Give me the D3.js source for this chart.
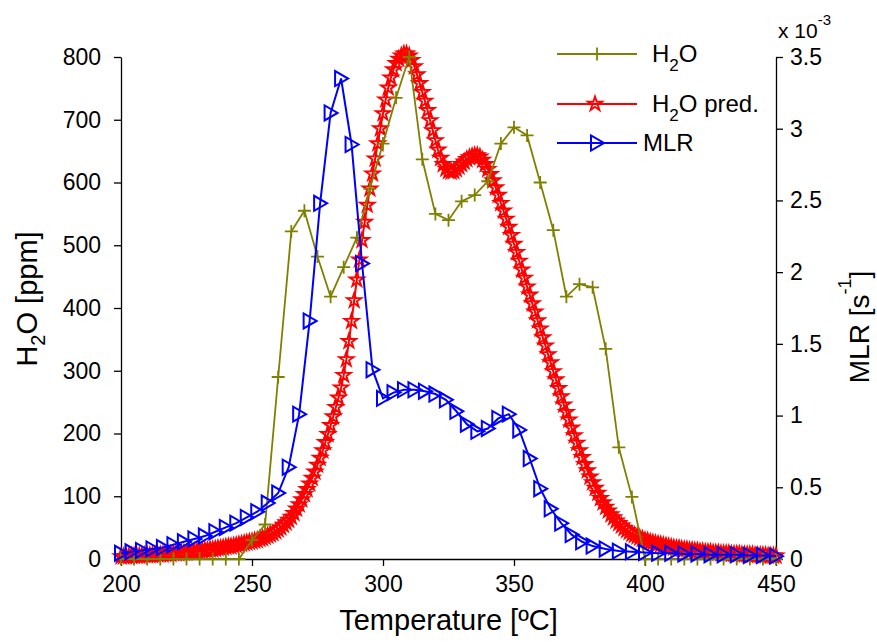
<!DOCTYPE html>
<html><head><meta charset="utf-8">
<script src="https://cdn.jsdelivr.net/npm/d3@7"></script>
<style>
body{margin:0;background:#fff}
svg{display:block}
text{font-family:"Liberation Sans",Arial,Helvetica,sans-serif;fill:#000}
</style>
</head><body>
<svg id="c" width="877" height="642"></svg>
<script>
// ---------------- data ----------------
const h2oTemp = [200,205,210,215,220,225,230,235,240,245,250,255,260,265,270,275,280,285,290,295,
  300,305,310,315,320,325,330,335,340,345,350,355,360,365,370,375,380,385,390,395,
  400,405,410,415,420,425,430,435,440,445,450];
const h2oValues = [0,0,0,0,0,0,0,0,0,0,30,55,290,522,555,482,418,465,512,590,
  662,735,800,637,550,540,570,580,602,662,688,675,600,524,418,438,433,335,178,99,
  0,0,0,0,0,0,0,0,0,0,0];

// predicted H2O sampled every 1 degC from 200 to 450
const predTemp = d3.range(200, 451, 1);
const predValues = [
  4,4,4,4,5,5,5,5,5,6,
  6,6,6,7,7,7,7,8,8,8,
  9,9,9,10,10,10,11,11,12,12,
  13,13,14,14,15,15,16,17,17,18,
  19,20,20,21,22,23,24,25,26,27,
  28,29,30,32,33,35,37,39,41,44,
  47,50,54,58,62,67,73,80,87,95,
  103,111,120,129,139,150,161,173,186,199,
  213,227,242,257,273,293,318,347,379,412,
  445,477,508,537,564,590,614,638,662,686,
  710,732,751,767,780,790,797,802,805,805,
  802,795,785,772,758,744,730,715,699,683,
  667,652,639,629,622,618,617,618,621,625,
  629,633,637,640,642,643,643,641,636,629,
  621,613,603,592,580,567,555,542,529,516,
  502,489,475,461,448,434,421,407,394,380,
  367,353,340,326,313,299,286,272,259,246,
  234,222,209,197,185,173,162,151,141,131,
  122,113,105,97,90,83,77,71,66,61,
  57,53,49,46,43,40,38,36,34,32,
  30,29,27,26,25,24,23,22,21,20,
  19,18,17,17,16,15,15,14,14,13,
  13,12,12,11,11,11,10,10,10,9,
  9,9,9,8,8,8,8,7,7,7,
  7,7,6,6,6,6,6,5,5,5,
  5];

const mlrTemp = [200,204,208,212,216,220,224,228,232,236,240,244,248,252,256,260,264,268,272,276,
  280,284,288,292,296,300,304,308,312,316,320,324,328,332,336,340,344,348,352,356,
  360,364,368,372,376,380,385,390,395,400,405,410,415,420,425,430,435,440,445,450];
// MLR in units of 10^-3 s^-1
const mlrValues = [0.04,0.05,0.06,0.07,0.08,0.10,0.12,0.14,0.16,0.19,0.22,0.25,0.29,0.33,0.39,0.46,0.64,1.01,1.66,2.48,
  3.11,3.35,2.89,2.06,1.32,1.12,1.16,1.18,1.18,1.17,1.15,1.11,1.03,0.94,0.89,0.91,0.98,1.01,0.90,0.70,
  0.49,0.35,0.25,0.17,0.12,0.09,0.07,0.055,0.05,0.045,0.04,0.04,0.035,0.035,0.03,0.03,0.03,0.025,0.025,0.02];

const xTicks = [200,250,300,350,400,450];
const yLeftTicks = [0,100,200,300,400,500,600,700,800];
const yRightTicks = [0,0.5,1,1.5,2,2.5,3,3.5];
const yRightLabels = ["0","0.5","1","1.5","2","2.5","3","3.5"];
const seriesNames = ["H2O","H2O pred.","MLR"];

// ---------------- layout ----------------
const M = {l:121, r:776, t:57, b:559};
const OLIVE = "#808000", RED = "#ff0000", BLUE = "#0000ff";
const TICK_FONT = 23, LABEL_FONT = 29, LEG_FONT = 24;

const svg = d3.select("#c");
const x = d3.scaleLinear().domain([200,450]).range([M.l, M.r]);
const yL = d3.scaleLinear().domain([0,800]).range([M.b, M.t]);
const yR = d3.scaleLinear().domain([0,3.5]).range([M.b, M.t]);

function styleAxis(g){
  g.selectAll("path.domain").attr("stroke","#000").attr("stroke-width",1.3);
  g.selectAll(".tick line").attr("stroke","#000").attr("stroke-width",1.3);
  g.selectAll(".tick text").style("font-size",TICK_FONT+"px").attr("fill","#000")
   .style("font-family",'"Liberation Sans",Arial,sans-serif');
}

svg.append("g").attr("transform",`translate(0,${M.b})`)
  .call(d3.axisBottom(x).tickValues(xTicks).tickFormat(d3.format("d")).tickSize(7).tickSizeOuter(0).tickPadding(10))
  .call(styleAxis);
svg.append("g").attr("transform",`translate(${M.l},0)`)
  .call(d3.axisLeft(yL).tickValues(yLeftTicks).tickFormat(d3.format("d")).tickSize(7).tickSizeOuter(0).tickPadding(13))
  .call(styleAxis);
svg.append("g").attr("transform",`translate(${M.r},0)`)
  .call(d3.axisRight(yR).tickValues(yRightTicks).tickFormat((d,i)=>yRightLabels[i]).tickSize(7).tickSizeOuter(0).tickPadding(7))
  .call(styleAxis);

// exponent label
const ex = svg.append("text").attr("x",778).attr("y",38).style("font-size","21px");
ex.append("tspan").text("x 10");
ex.append("tspan").attr("dy",-13).style("font-size","15px").text("-3");

// axis labels
svg.append("text").attr("x",(M.l+M.r)/2).attr("y",630).attr("text-anchor","middle")
  .style("font-size",LABEL_FONT+"px").text("Temperature [ºC]");

const yl = svg.append("text").attr("transform","translate(37,299) rotate(-90)")
  .attr("text-anchor","middle").style("font-size",LABEL_FONT+"px");
yl.append("tspan").text("H");
yl.append("tspan").attr("dy",8).style("font-size","20px").text("2");
yl.append("tspan").attr("dy",-8).text("O [ppm]");

const yr = svg.append("text").attr("transform","translate(869,327) rotate(-90)")
  .attr("text-anchor","middle").style("font-size","28px");
yr.append("tspan").text("MLR [s");
yr.append("tspan").attr("dy",-18).style("font-size","18px").text("-1");
yr.append("tspan").attr("dy",18).text("]");

// ---------------- marker shapes ----------------
const plusPath = "M-6.5,0H6.5M0,-6.5V6.5";
const starPath = d3.symbol(d3.symbolStar, 62)();
const triPath = "M-6,-7.5L-6,7.5L7,0Z";

// ---------------- series ----------------
const pred = predTemp.map((t,i)=>[t, predValues[i]]);
const h2o = h2oTemp.map((t,i)=>[t, h2oValues[i]]);
const mlr = mlrTemp.map((t,i)=>[t, mlrValues[i]]);

// predicted (red stars)
svg.append("path").datum(pred)
  .attr("d", d3.line().x(d=>x(d[0])).y(d=>yL(d[1])))
  .attr("fill","none").attr("stroke",RED).attr("stroke-width",2);
svg.append("g").selectAll("path").data(pred).join("path")
  .attr("d",starPath).attr("transform",d=>`translate(${x(d[0])},${yL(d[1])})`)
  .attr("fill","none").attr("stroke",RED).attr("stroke-width",1.9);

// measured H2O (olive plus)
svg.append("path").datum(h2o)
  .attr("d", d3.line().x(d=>x(d[0])).y(d=>yL(d[1])))
  .attr("fill","none").attr("stroke",OLIVE).attr("stroke-width",1.8);
svg.append("g").selectAll("path").data(h2o).join("path")
  .attr("d",plusPath).attr("transform",d=>`translate(${x(d[0])},${yL(d[1])})`)
  .attr("fill","none").attr("stroke",OLIVE).attr("stroke-width",1.8);

// MLR (blue triangles, right axis)
svg.append("path").datum(mlr)
  .attr("d", d3.line().x(d=>x(d[0])).y(d=>yR(d[1])))
  .attr("fill","none").attr("stroke",BLUE).attr("stroke-width",2);
svg.append("g").selectAll("path").data(mlr).join("path")
  .attr("d",triPath).attr("transform",d=>`translate(${x(d[0])},${yR(d[1])})`)
  .attr("fill","none").attr("stroke",BLUE).attr("stroke-width",2);

// ---------------- legend ----------------
const legend = [
  {y:54, tx:652, color:OLIVE, shape:plusPath, mx:597, sw:1.8},
  {y:104, tx:652, color:RED, shape:starPath, mx:595, sw:1.9},
  {y:143, tx:643, color:BLUE, shape:triPath, mx:597, sw:2}
];
legend.forEach((L,i)=>{
  svg.append("line").attr("x1",557).attr("x2",637).attr("y1",L.y).attr("y2",L.y)
    .attr("stroke",L.color).attr("stroke-width",2);
  svg.append("path").attr("d",L.shape).attr("transform",`translate(${L.mx},${L.y})`)
    .attr("fill","none").attr("stroke",L.color).attr("stroke-width",L.sw);
  const t = svg.append("text").attr("x",L.tx).attr("y",L.y+8).style("font-size",LEG_FONT+"px");
  const name = seriesNames[i];
  if (name.startsWith("H2O")) {
    t.append("tspan").text("H");
    t.append("tspan").attr("dy",9).style("font-size","17px").text("2");
    t.append("tspan").attr("dy",-9).text(name.slice(2));
  } else {
    t.text(name);
  }
});
</script>
</body></html>
